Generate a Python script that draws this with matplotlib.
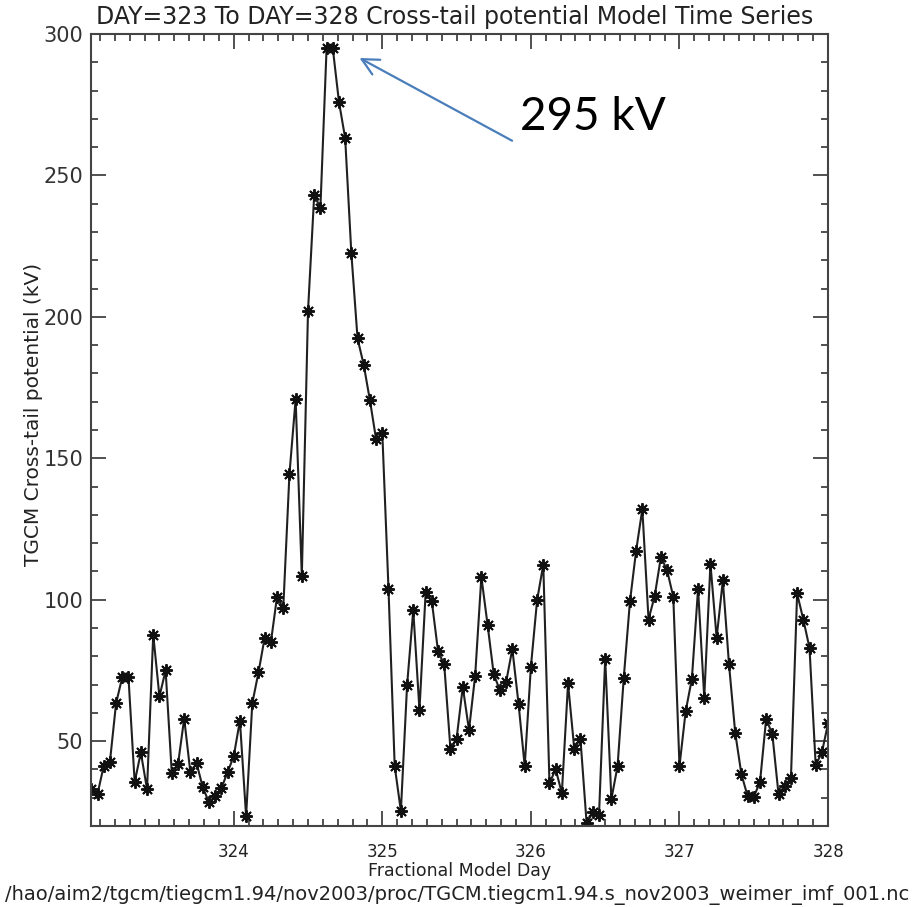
import matplotlib
matplotlib.use("Agg")
import matplotlib.pyplot as plt
from matplotlib.ticker import MultipleLocator
import numpy as np

# hourly model output, day 323 hour 1 .. day 328 hour 0
start_day = 323 + 1 / 24.0
potential = [
    33.0, 31.3, 41.2, 42.6, 63.4, 72.6, 72.6, 35.5, 46.0, 33.0,
    87.7, 65.8, 75.0, 38.6, 41.8, 58.0, 39.0, 42.2, 33.7, 28.4,
    30.5, 33.3, 39.0, 44.6, 57.3, 23.5, 63.4, 74.3, 86.6, 84.9,
    101.1, 96.9, 144.4, 170.9, 108.4, 202.1, 243.1, 238.5, 295.0, 295.0,
    276.0, 263.2, 222.5, 192.4, 183.0, 170.5, 156.7, 158.9, 103.8, 41.2,
    25.3, 69.7, 96.3, 61.0, 102.6, 99.4, 81.8, 77.1, 47.4, 50.9,
    69.2, 53.9, 73.2, 108.1, 91.2, 73.6, 68.0, 70.9, 82.6, 63.3,
    41.2, 76.3, 99.8, 112.4, 35.1, 40.1, 31.6, 70.4, 47.4, 50.9,
    21.0, 24.8, 23.8, 79.1, 29.5, 41.2, 72.4, 99.4, 117.4, 132.0,
    93.0, 101.4, 115.1, 110.4, 101.0, 41.2, 60.6, 72.0, 103.8, 65.4,
    112.7, 86.5, 106.8, 77.1, 53.0, 38.3, 30.6, 30.4, 35.4, 57.9,
    52.4, 31.2, 34.2, 36.8, 102.2, 93.0, 83.0, 41.5, 46.0, 56.3,
]
days = start_day + np.arange(len(potential)) / 24.0

title = "DAY=323 To DAY=328 Cross-tail potential Model Time Series"
x_label = "Fractional Model Day"
y_label = "TGCM Cross-tail potential (kV)"
file_name = "/hao/aim2/tgcm/tiegcm1.94/nov2003/proc/TGCM.tiegcm1.94.s_nov2003_weimer_imf_001.nc"
peak_text = "295 kV"

ink = "#222222"

fig = plt.figure(figsize=(9.15, 9.07), dpi=100)
ax = fig.add_axes([0.0998, 0.0893, 0.8052, 0.8732])

ax.plot(days, potential, color="#202020", linewidth=1.5,
        marker=(8, 2, 0), markersize=9, markeredgewidth=1.4,
        markeredgecolor="#111111")

ax.set_xlim(start_day, 328)
ax.set_ylim(20, 300)
ax.xaxis.set_major_locator(MultipleLocator(1))
ax.xaxis.set_minor_locator(MultipleLocator(0.1))
ax.yaxis.set_major_locator(MultipleLocator(50))
ax.yaxis.set_minor_locator(MultipleLocator(10))
ax.tick_params(which="both", direction="in", top=True, right=True,
               color="#333333", width=1.2)
ax.tick_params(which="major", length=11)
ax.tick_params(which="minor", length=5)
ax.tick_params(axis="y", labelsize=15, labelcolor="#333333", pad=6)
ax.tick_params(axis="x", labelsize=12, labelcolor=ink, pad=12)
for side in ax.spines.values():
    side.set_color("#444444")
    side.set_linewidth(1.5)

ax.set_xlabel(x_label, fontsize=12.5, color=ink, va="center")
ax.xaxis.set_label_coords(0.5, -0.057)
ax.set_ylabel(y_label, fontsize=14.5, color=ink, va="center")
ax.yaxis.set_label_coords(-0.078, 0.52)
fig.text(0.497, 0.981, title, fontsize=17, color=ink,
         ha="center", va="center")
fig.text(0.4995, 0.0135, file_name, fontsize=14, color=ink,
         ha="center", va="center")

ax.annotate("", xy=(324.83, 292), xytext=(325.89, 261.8),
            arrowprops=dict(arrowstyle="->", color="#4a7ebb", lw=1.6,
                            mutation_scale=30))
ax.text(325.93, 270.5, peak_text, family=["Lato", "DejaVu Sans"], fontsize=33,
        color="black", ha="left", va="center")

fig.savefig("out.png", dpi=100)
